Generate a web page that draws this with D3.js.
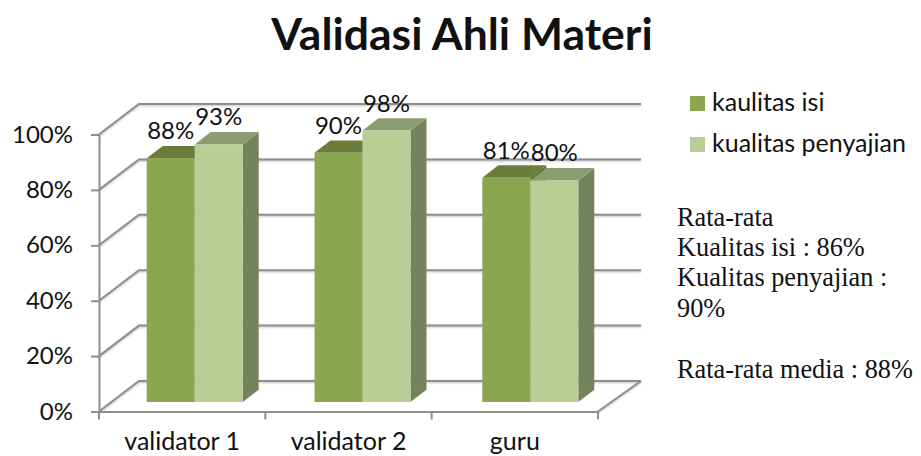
<!DOCTYPE html>
<html>
<head>
<meta charset="utf-8">
<script src="https://cdn.jsdelivr.net/npm/d3@7"></script>
<style>
  html, body { margin: 0; padding: 0; background: #fff; }
  svg { display: block; }
  text { font-family: Lato, "Noto Sans", sans-serif; fill: #111; }
</style>
</head>
<body>
<div id="chart"></div>
<script>
const categories = ['validator 1', 'validator 2', 'guru']
const seriesNames = ['kaulitas isi', 'kualitas penyajian']
const kualitasIsi = [88, 90, 81]
const kualitasPenyajian = [93, 98, 80]
const yTicks = [0, 20, 40, 60, 80, 100]
const noteLines = [
  'Rata-rata',
  'Kualitas isi : 86%',
  'Kualitas penyajian :',
  '90%',
  '',
  'Rata-rata media : 88%'
]

const width = 921
const height = 456
const colors = {
  front: ['#8aa64f', '#bacd95'],
  top: ['#6b7c3b', '#8d9b70'],
  side: ['#5f7038', '#74825e']
}
const grid = '#8e8e8e'

// 3d offsets
const wallDx = 40
const wallDy = -30.5
const barDx = 16
const barDy = -12.3
const floorLift = 9.5

const svg = d3.select('#chart').append('svg')
  .attr('width', width)
  .attr('height', height)

svg.append('text')
  .attr('x', 462)
  .attr('y', 50)
  .attr('text-anchor', 'middle')
  .attr('font-size', 44.5)
  .attr('font-weight', 700)
  .text('Validasi Ahli Materi')

const y = d3.scaleLinear().domain([0, 100]).range([411.5, 134.5])
const x = d3.scaleBand().domain(categories).range([99, 598])
// bars do not sit quite on the axis bands
const barX = d3.scaleBand().domain(categories).range([146.7, 650.1])
const inner = d3.scaleBand().domain(seriesNames).range([0, 96])

// walls
const walls = svg.append('g')
  .attr('fill', 'none')
  .attr('stroke', grid)
  .attr('stroke-width', 2)
  .style('filter', 'drop-shadow(0 1px 1px rgba(0,0,0,.25))')

const wallLine = d3.line()
yTicks.forEach((t) => {
  walls.append('path').attr('d', wallLine([
    [x.range()[0], y(t)],
    [x.range()[0] + wallDx, y(t) + wallDy],
    [x.range()[1] + wallDx + 3, y(t) + wallDy]
  ]))
})
walls.append('path').attr('d', wallLine([
  [x.range()[1], y(0)],
  [x.range()[1] + wallDx + 3, y(0) + wallDy]
]))

// axes
const yAxis = svg.append('g')
  .attr('transform', `translate(${x.range()[0]},0)`)
  .call(d3.axisLeft(y).tickValues(yTicks).tickSize(8).tickSizeOuter(0).tickPadding(18).tickFormat((d) => d + '%'))
const xAxis = svg.append('g')
  .attr('transform', `translate(0,${y(0)})`)
  .call(d3.axisBottom(x).tickSize(0).tickPadding(21))

xAxis.selectAll('.tick line').remove()
xAxis.selectAll('.tick').append('line')
  .attr('x1', -x.step() / 2)
  .attr('x2', -x.step() / 2)
  .attr('y2', 8)
xAxis.append('line')
  .attr('class', 'end')
  .attr('x1', x.range()[1])
  .attr('x2', x.range()[1])
  .attr('y2', 8)

svg.selectAll('.domain').attr('stroke', grid).attr('stroke-width', 2)
svg.selectAll('.tick line, .end').attr('stroke', grid).attr('stroke-width', 2)
svg.selectAll('.tick text')
  .attr('font-size', 24)
  .style('font-family', 'Lato, sans-serif')
  .attr('fill', '#111')
xAxis.selectAll('.tick text').attr('font-size', 25)

// bars
const table = categories.map((c, i) => ({ cat: c, vals: [kualitasIsi[i], kualitasPenyajian[i]] }))
const bars = svg.append('g')

function poly(pts) {
  return pts.map((p) => p.join(',')).join(' ')
}

table.forEach((row) => {
  row.vals.forEach((v, s) => {
    const left = barX(row.cat) + inner(seriesNames[s])
    const right = left + inner.bandwidth()
    const top = y(v) - floorLift
    const base = y(0) - floorLift
    const g = bars.append('g')
    g.append('polygon')
      .attr('points', poly([[right, top], [right + barDx, top + barDy], [right + barDx, base + barDy], [right, base]]))
      .attr('fill', colors.side[s])
    g.append('polygon')
      .attr('points', poly([[left, top], [left + barDx, top + barDy], [right + barDx, top + barDy], [right, top]]))
      .attr('fill', colors.top[s])
    g.append('rect')
      .attr('x', left)
      .attr('y', top)
      .attr('width', inner.bandwidth())
      .attr('height', base - top)
      .attr('fill', colors.front[s])
  })
})

// value labels
table.forEach((row) => {
  row.vals.forEach((v, s) => {
    svg.append('text')
      .attr('x', barX(row.cat) + inner(seriesNames[s]) + inner.bandwidth() / 2)
      .attr('y', y(v) - floorLift - 19)
      .attr('text-anchor', 'middle')
      .attr('font-size', 24)
      .text(v + '%')
  })
})

// legend
const legendY = d3.scalePoint().domain(seriesNames).range([96, 137])
seriesNames.forEach((name, s) => {
  svg.append('rect')
    .attr('x', 690)
    .attr('y', legendY(name))
    .attr('width', 15)
    .attr('height', 15)
    .attr('fill', colors.front[s])
  svg.append('text')
    .attr('x', 712)
    .attr('y', legendY(name) + 15)
    .attr('font-size', 25)
    .text(name)
})

// note
const noteY = d3.scaleLinear().domain([0, 5]).range([225.5, 377.7])
noteLines.forEach((line, i) => {
  svg.append('text')
    .attr('x', 677)
    .attr('y', noteY(i))
    .attr('font-size', 26.3)
    .style('font-family', '"Liberation Serif", serif')
    .text(line)
})
</script>
</body>
</html>
